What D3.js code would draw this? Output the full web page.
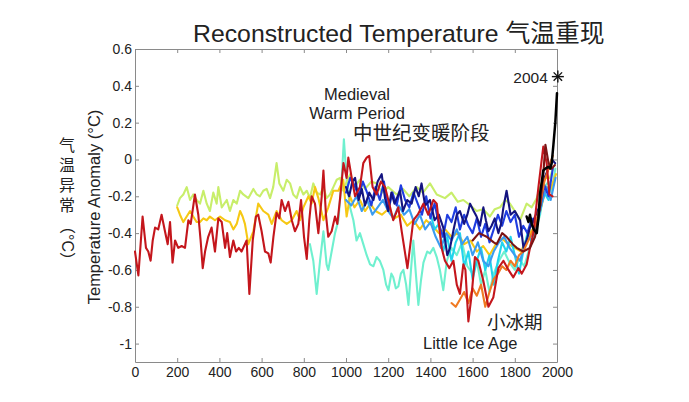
<!DOCTYPE html>
<html><head><meta charset="utf-8">
<script src="https://cdn.jsdelivr.net/npm/d3@7"></script>
<style>
html,body{margin:0;padding:0;background:#fff;}
text{font-family:"Liberation Sans",Arial,"Noto Sans CJK SC",sans-serif;fill:#222;}
</style></head>
<body>
<svg id="chart" width="689" height="402"></svg>
<script>
// ---------- data ----------
const xTicks = [0,200,400,600,800,1000,1200,1400,1600,1800,2000];
const yTicks = [0.6,0.4,0.2,0,-0.2,-0.4,-0.6,-0.8,-1];

const esper2002 = [[829,-0.46],[845,-0.55],[861,-0.73],[877,-0.55],[893,-0.39],[908,-0.57],[916,-0.60],[932,-0.50],[948,-0.40],[964,-0.33],[980,-0.10],[990,0.11],[1003,-0.11],[1019,-0.26],[1035,-0.33],[1050,-0.44],[1066,-0.40],[1082,-0.46],[1098,-0.52],[1114,-0.57],[1130,-0.58],[1145,-0.53],[1160,-0.55],[1177,-0.60],[1190,-0.68],[1201,-0.71],[1215,-0.62],[1224,-0.64],[1236,-0.70],[1248,-0.69],[1260,-0.62],[1272,-0.60],[1285,-0.68],[1296,-0.79],[1308,-0.60],[1319,-0.44],[1331,-0.62],[1343,-0.79],[1355,-0.66],[1367,-0.56],[1385,-0.50],[1398,-0.51],[1414,-0.48],[1430,-0.53],[1445,-0.60],[1461,-0.71],[1478,-0.55],[1500,-0.48],[1525,-0.52],[1550,-0.45],[1575,-0.58],[1600,-0.62],[1620,-0.55],[1640,-0.68],[1660,-0.60],[1680,-0.72],[1700,-0.62],[1725,-0.55],[1750,-0.50],[1775,-0.56],[1800,-0.60],[1820,-0.54],[1845,-0.58],[1870,-0.48],[1895,-0.40],[1920,-0.30],[1940,-0.15],[1960,-0.12],[1975,-0.18],[1992,-0.05]];

const mannJones2003 = [[200,-0.25],[213,-0.21],[229,-0.19],[245,-0.15],[261,-0.22],[276,-0.19],[292,-0.22],[308,-0.24],[324,-0.17],[340,-0.24],[355,-0.28],[371,-0.18],[387,-0.24],[395,-0.15],[411,-0.26],[435,-0.22],[450,-0.28],[466,-0.22],[482,-0.24],[498,-0.17],[513,-0.19],[537,-0.21],[561,-0.16],[577,-0.19],[592,-0.20],[608,-0.17],[624,-0.16],[640,-0.21],[655,-0.15],[671,-0.02],[684,-0.13],[703,-0.17],[719,-0.11],[735,-0.13],[750,-0.19],[766,-0.21],[782,-0.15],[798,-0.19],[814,-0.17],[829,-0.21],[845,-0.13],[861,-0.18],[877,-0.19],[893,-0.15],[908,-0.21],[924,-0.19],[940,-0.15],[956,-0.11],[972,-0.10],[987,-0.17],[1003,-0.12],[1020,-0.08],[1040,-0.15],[1066,-0.11],[1090,-0.16],[1120,-0.12],[1145,-0.13],[1170,-0.18],[1200,-0.15],[1240,-0.19],[1270,-0.16],[1300,-0.20],[1335,-0.15],[1365,-0.18],[1398,-0.13],[1430,-0.19],[1469,-0.21],[1500,-0.18],[1530,-0.23],[1556,-0.22],[1590,-0.25],[1619,-0.28],[1650,-0.27],[1682,-0.31],[1705,-0.27],[1730,-0.26],[1755,-0.22],[1777,-0.24],[1800,-0.28],[1825,-0.33],[1856,-0.24],[1880,-0.26],[1904,-0.21],[1935,-0.10],[1967,-0.10],[1980,-0.05]];

const jonesMann2004 = [[200,-0.26],[213,-0.30],[229,-0.34],[245,-0.31],[261,-0.28],[276,-0.31],[292,-0.34],[308,-0.34],[324,-0.32],[340,-0.33],[355,-0.31],[379,-0.33],[403,-0.31],[427,-0.33],[450,-0.34],[466,-0.38],[482,-0.35],[498,-0.28],[510,-0.31],[521,-0.35],[537,-0.46],[561,-0.39],[584,-0.24],[608,-0.28],[632,-0.30],[648,-0.35],[671,-0.28],[695,-0.33],[719,-0.35],[743,-0.33],[766,-0.28],[782,-0.33],[798,-0.26],[822,-0.20],[837,-0.24],[853,-0.15],[869,-0.21],[893,-0.33],[916,-0.26],[940,-0.17],[964,-0.17],[987,-0.11],[1003,-0.31],[1019,-0.20],[1040,-0.26],[1066,-0.22],[1090,-0.28],[1115,-0.24],[1140,-0.28],[1170,-0.30],[1200,-0.27],[1230,-0.32],[1260,-0.30],[1290,-0.36],[1320,-0.33],[1350,-0.38],[1380,-0.33],[1410,-0.36],[1440,-0.40],[1470,-0.38],[1500,-0.42],[1530,-0.40],[1560,-0.46],[1590,-0.44],[1620,-0.50],[1650,-0.47],[1680,-0.52],[1710,-0.46],[1740,-0.43],[1770,-0.46],[1800,-0.48],[1830,-0.50],[1860,-0.42],[1890,-0.37],[1920,-0.28],[1950,-0.15],[1970,-0.16],[1995,-0.08]];

const briffa2000 = [[1402,-0.30],[1420,-0.38],[1440,-0.35],[1460,-0.50],[1480,-0.42],[1500,-0.55],[1520,-0.45],[1540,-0.40],[1560,-0.58],[1580,-0.50],[1600,-0.65],[1620,-0.55],[1640,-0.48],[1660,-0.60],[1680,-0.52],[1700,-0.68],[1720,-0.55],[1740,-0.45],[1760,-0.50],[1780,-0.42],[1800,-0.52],[1820,-0.62],[1840,-0.50],[1860,-0.40],[1880,-0.45],[1900,-0.38],[1920,-0.28],[1940,-0.18],[1960,-0.22]];

const crowley2000 = [[1000,-0.22],[1025,-0.25],[1050,-0.20],[1075,-0.28],[1100,-0.22],[1125,-0.30],[1150,-0.26],[1175,-0.22],[1200,-0.28],[1225,-0.32],[1250,-0.25],[1275,-0.30],[1300,-0.27],[1325,-0.35],[1350,-0.30],[1375,-0.38],[1400,-0.34],[1425,-0.42],[1450,-0.48],[1475,-0.40],[1500,-0.44],[1525,-0.38],[1550,-0.46],[1575,-0.42],[1600,-0.52],[1625,-0.45],[1650,-0.55],[1675,-0.58],[1700,-0.50],[1725,-0.45],[1750,-0.42],[1775,-0.48],[1800,-0.52],[1825,-0.55],[1850,-0.45],[1875,-0.42],[1900,-0.38],[1925,-0.25],[1950,-0.15],[1970,-0.22],[1993,-0.10]];

const mann1999 = [[1000,-0.18],[1020,-0.10],[1040,-0.14],[1060,-0.20],[1080,-0.12],[1100,-0.18],[1120,-0.25],[1140,-0.15],[1160,-0.22],[1180,-0.12],[1200,-0.28],[1220,-0.18],[1240,-0.25],[1260,-0.14],[1280,-0.22],[1300,-0.26],[1320,-0.18],[1340,-0.24],[1360,-0.30],[1380,-0.20],[1400,-0.32],[1420,-0.24],[1440,-0.35],[1460,-0.42],[1480,-0.30],[1500,-0.34],[1520,-0.26],[1540,-0.38],[1560,-0.30],[1580,-0.36],[1600,-0.40],[1620,-0.32],[1640,-0.42],[1660,-0.35],[1680,-0.45],[1700,-0.38],[1720,-0.30],[1740,-0.36],[1760,-0.28],[1780,-0.34],[1800,-0.30],[1820,-0.42],[1840,-0.36],[1860,-0.40],[1880,-0.32],[1900,-0.36],[1920,-0.26],[1940,-0.14],[1960,-0.20],[1980,-0.05]];

const jones1998 = [[1000,-0.15],[1015,-0.20],[1030,-0.12],[1043,-0.10],[1060,-0.22],[1075,-0.16],[1090,-0.25],[1110,-0.18],[1130,-0.22],[1150,-0.12],[1169,-0.08],[1185,-0.21],[1200,-0.28],[1215,-0.18],[1230,-0.24],[1256,-0.17],[1270,-0.28],[1290,-0.22],[1311,-0.24],[1330,-0.15],[1345,-0.20],[1358,-0.13],[1375,-0.25],[1398,-0.22],[1420,-0.33],[1440,-0.30],[1461,-0.37],[1480,-0.52],[1493,-0.48],[1510,-0.38],[1525,-0.30],[1540,-0.28],[1560,-0.35],[1575,-0.30],[1588,-0.24],[1605,-0.28],[1619,-0.31],[1635,-0.36],[1651,-0.26],[1663,-0.33],[1675,-0.39],[1690,-0.36],[1705,-0.32],[1722,-0.40],[1735,-0.35],[1746,-0.26],[1761,-0.17],[1780,-0.30],[1800,-0.28],[1825,-0.33],[1841,-0.48],[1856,-0.44],[1872,-0.37],[1896,-0.31],[1920,-0.25],[1940,-0.10],[1960,-0.05],[1975,0.00],[1991,-0.02]];

const huang2004 = [[1500,-0.78],[1520,-0.80],[1540,-0.76],[1560,-0.72],[1580,-0.78],[1600,-0.70],[1620,-0.74],[1640,-0.68],[1660,-0.80],[1680,-0.72],[1700,-0.65],[1720,-0.62],[1740,-0.58],[1760,-0.60],[1780,-0.55],[1800,-0.58],[1820,-0.52],[1840,-0.50],[1860,-0.45],[1880,-0.40],[1900,-0.35],[1920,-0.25],[1940,-0.12],[1960,-0.05],[1980,0.02]];

const moberg2005 = [[0,-0.50],[16,-0.63],[36,-0.31],[52,-0.48],[63,-0.50],[74,-0.55],[84,-0.44],[95,-0.37],[110,-0.38],[126,-0.30],[142,-0.39],[155,-0.46],[166,-0.34],[178,-0.56],[190,-0.44],[205,-0.48],[221,-0.47],[237,-0.48],[253,-0.33],[264,-0.35],[284,-0.19],[300,-0.30],[311,-0.44],[321,-0.59],[332,-0.50],[347,-0.42],[363,-0.37],[379,-0.50],[395,-0.32],[411,-0.34],[427,-0.48],[437,-0.40],[450,-0.53],[466,-0.44],[479,-0.50],[492,-0.48],[505,-0.50],[521,-0.46],[529,-0.44],[542,-0.73],[558,-0.44],[573,-0.31],[584,-0.30],[600,-0.39],[616,-0.50],[632,-0.51],[643,-0.56],[656,-0.42],[671,-0.29],[684,-0.32],[695,-0.22],[711,-0.28],[727,-0.23],[743,-0.33],[758,-0.39],[774,-0.35],[787,-0.22],[801,-0.42],[814,-0.54],[826,-0.33],[837,-0.20],[853,-0.24],[869,-0.40],[885,-0.20],[893,-0.06],[905,-0.30],[916,-0.42],[932,-0.39],[948,-0.31],[959,-0.35],[972,-0.21],[988,-0.02],[1003,-0.10],[1011,0.01],[1027,-0.10],[1043,-0.20],[1066,-0.15],[1082,-0.02],[1098,0.01],[1110,0.02],[1126,-0.15],[1145,-0.19],[1165,-0.12],[1185,-0.15],[1209,-0.26],[1224,-0.33],[1248,-0.26],[1264,-0.39],[1291,-0.59],[1303,-0.48],[1319,-0.33],[1340,-0.30],[1367,-0.24],[1390,-0.30],[1414,-0.22],[1430,-0.24],[1453,-0.48],[1469,-0.55],[1490,-0.59],[1509,-0.55],[1525,-0.68],[1540,-0.73],[1556,-0.57],[1566,-0.60],[1580,-0.88],[1596,-0.73],[1611,-0.53],[1627,-0.55],[1651,-0.66],[1675,-0.80],[1698,-0.75],[1722,-0.59],[1746,-0.55],[1770,-0.60],[1793,-0.64],[1817,-0.59],[1833,-0.62],[1856,-0.57],[1872,-0.48],[1888,-0.40],[1912,-0.15],[1935,0.07],[1951,-0.02],[1964,-0.19],[1979,-0.20]];

const oerlemans2005 = [[1600,-0.44],[1630,-0.40],[1667,-0.42],[1700,-0.45],[1714,-0.46],[1740,-0.40],[1761,-0.42],[1790,-0.46],[1809,-0.48],[1840,-0.50],[1872,-0.48],[1896,-0.42],[1919,-0.26],[1935,-0.08],[1945,0.08],[1960,-0.02],[1975,-0.05],[1990,-0.03]];

const instrumental = [[1856,-0.31],[1865,-0.34],[1872,-0.30],[1880,-0.35],[1890,-0.38],[1904,-0.40],[1912,-0.32],[1919,-0.19],[1928,-0.12],[1935,-0.06],[1945,-0.05],[1959,-0.04],[1968,-0.05],[1975,-0.02],[1983,0.08],[1992,0.20],[2000,0.36]];

const marker2004 = [2004, 0.45];

const seriesList = [esper2002, mannJones2003, jonesMann2004, briffa2000, crowley2000, mann1999, jones1998, huang2004, moberg2005, oerlemans2005, instrumental];
const seriesColors = ["#6ff0cf","#c8ee6a","#f6c814","#22d4ec","#3a9cf0","#1f3de0","#141480","#f07a22","#c4161c","#7c1414","#000000"];

// ---------- drawing ----------
const svg = d3.select("#chart");
const L = 135, R = 557, T = 49, B = 362;
const x = d3.scaleLinear().domain([0, 2000]).range([L, R]);
const y = d3.scaleLinear().domain([-1.1, 0.6]).range([B, T]);

const fmt = d => String(+d.toFixed(1));
const axisColor = "#8a8a8a";

function styleAxis(g){
  g.select(".domain").attr("stroke", axisColor);
  g.selectAll(".tick line").attr("stroke", axisColor);
  g.selectAll(".tick text").attr("fill", "#222").style("font-size", "14px")
   .style("font-family", '"Liberation Sans", Arial, sans-serif');
}

svg.append("g").attr("transform", `translate(0,${B})`)
  .call(d3.axisBottom(x).tickValues(xTicks).tickFormat(d => d).tickSizeInner(-4).tickSizeOuter(0).tickPadding(5))
  .call(styleAxis);
svg.append("g").attr("transform", `translate(0,${T})`)
  .call(d3.axisTop(x).tickValues(xTicks).tickFormat("").tickSizeInner(-4).tickSizeOuter(0))
  .call(styleAxis);
svg.append("g").attr("transform", `translate(${L},0)`)
  .call(d3.axisLeft(y).tickValues(yTicks).tickFormat(fmt).tickSizeInner(-4).tickSizeOuter(0).tickPadding(3))
  .call(styleAxis);
svg.append("g").attr("transform", `translate(${R},0)`)
  .call(d3.axisRight(y).tickValues(yTicks).tickFormat("").tickSizeInner(-4).tickSizeOuter(0))
  .call(styleAxis);

const line = d3.line().x(d => x(d[0])).y(d => y(d[1]));
const plot = svg.append("g");
seriesList.forEach((s, i) => {
  plot.append("path").datum(s).attr("d", line)
    .attr("fill", "none").attr("stroke", seriesColors[i])
    .attr("stroke-width", i === seriesList.length - 1 ? 2.5 : 2.1)
    .attr("stroke-linejoin", "round").attr("stroke-linecap", "round");
});

// 2004 asterisk marker
const mx = x(marker2004[0]), my = y(marker2004[1]);
const star = svg.append("g").attr("transform", `translate(${mx},${my})`);
[0, 45, 90, 135].forEach(a => {
  star.append("line").attr("x1", -6).attr("x2", 6).attr("y1", 0).attr("y2", 0)
    .attr("transform", `rotate(${a})`).attr("stroke", "#111").attr("stroke-width", 1.4);
});
svg.append("text").attr("x", mx - 10).attr("y", my + 6).attr("text-anchor", "end")
  .style("font-size", "15.5px").text("2004");

// title
svg.append("text").attr("x", 193).attr("y", 42).style("font-size", "24.8px").attr("fill", "#222")
  .text("Reconstructed Temperature 气温重现");

// y label (English)
svg.append("text").attr("transform", "translate(100,207) rotate(-90)").attr("text-anchor", "middle")
  .style("font-size", "16.5px").text("Temperature Anomaly (°C)");

// y label (Chinese, vertical)
const cjkChars = ["气","温","异","常"];
cjkChars.forEach((c, i) => {
  svg.append("text").attr("x", 67).attr("y", 151 + i * 20)
    .attr("text-anchor", "middle").style("font-size", "16px").text(c);
});
svg.append("text").attr("transform", "translate(62,243) rotate(90)")
  .attr("text-anchor", "middle").style("font-size", "16px").text("（°C）");

// annotations
svg.append("text").attr("x", 357).attr("y", 100).attr("text-anchor", "middle").style("font-size", "16.5px").text("Medieval");
svg.append("text").attr("x", 357).attr("y", 118.5).attr("text-anchor", "middle").style("font-size", "16.5px").text("Warm Period");
svg.append("text").attr("x", 353).attr("y", 140).style("font-size", "19.5px").text("中世纪变暖阶段");
svg.append("text").attr("x", 487).attr("y", 329).style("font-size", "18.5px").text("小冰期");
svg.append("text").attr("x", 423).attr("y", 349).style("font-size", "16.5px").text("Little Ice Age");
</script>
</body></html>
